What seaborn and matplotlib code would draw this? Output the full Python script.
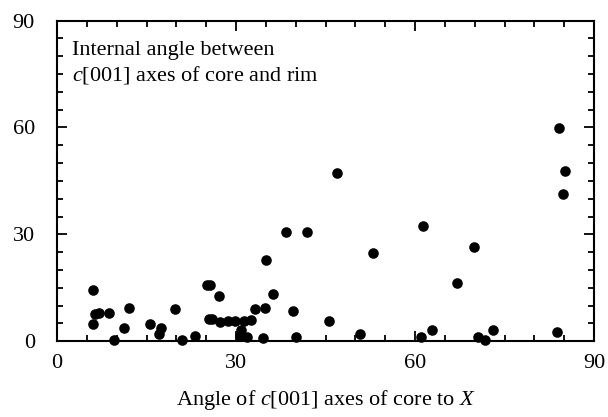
import matplotlib
matplotlib.use("Agg")
import matplotlib.pyplot as plt
from matplotlib.ticker import MultipleLocator
import seaborn as sns
import pandas as pd

core_angle = [6.1, 6.1, 6.4, 7.0, 8.7, 9.55, 11.2, 12.1, 15.6, 17.5, 17.1, 19.8, 20.9,
              23.2, 25.1, 25.7, 27.1, 25.5, 25.9, 27.3, 28.6, 29.9, 31.4, 32.5, 33.1,
              34.9, 36.2, 30.8, 30.6, 31.9, 34.6, 35.0, 38.4, 41.9, 39.5, 40.05, 45.5,
              47.0, 50.8, 53.0, 61.3, 60.95, 62.9, 67.0, 69.9, 70.5, 71.8, 73.0,
              83.85, 84.75, 84.1, 85.1]
internal_angle = [14.4, 4.8, 7.6, 7.9, 7.9, 0.4, 3.6, 9.4, 4.8, 3.6, 2.0, 9.0, 0.4,
                  1.6, 15.9, 15.9, 12.7, 6.2, 6.2, 5.3, 5.7, 5.7, 5.7, 5.9, 9.0,
                  9.4, 13.3, 3.2, 1.6, 1.2, 1.0, 22.7, 30.6, 30.6, 8.4, 1.1, 5.8,
                  47.2, 2.05, 24.9, 32.4, 1.1, 3.1, 16.3, 26.4, 1.1, 0.36, 3.1,
                  2.6, 41.3, 59.9, 47.7]
x_ticks = [0, 30, 60, 90]
y_ticks = [0, 30, 60, 90]

df = pd.DataFrame({"core": core_angle, "internal": internal_angle})

sns.set_theme(style="ticks")
plt.rcParams["font.family"] = ["Liberation Serif", "DejaVu Serif"]
plt.rcParams["mathtext.fontset"] = "custom"
plt.rcParams["mathtext.rm"] = "Liberation Serif"
plt.rcParams["mathtext.it"] = "Liberation Serif:italic"

fig = plt.figure(figsize=(6.08, 4.17), dpi=100)
ax = fig.add_axes([0.0938, 0.1815, 0.8832, 0.7693])

sns.scatterplot(data=df, x="core", y="internal", ax=ax, color="black",
                s=58, edgecolor="black", linewidth=0, zorder=3, clip_on=False)

ax.set_xlim(0, 90)
ax.set_ylim(0, 90)
ax.set_xticks(x_ticks)
ax.set_yticks(y_ticks)
ax.xaxis.set_minor_locator(MultipleLocator(5))
ax.yaxis.set_minor_locator(MultipleLocator(5))
ax.tick_params(which="both", direction="in", top=True, right=True, color="black",
               width=1.3, labelsize=16, labelcolor="black")
ax.tick_params(which="major", length=7)
ax.tick_params(which="minor", length=4.3)
ax.tick_params(axis="x", which="major", pad=9)
ax.tick_params(axis="y", which="major", pad=16)
for sp in ax.spines.values():
    sp.set_visible(True)
    sp.set_linewidth(1.5)
    sp.set_color("black")

ax.set_xlabel(r"Angle of $\mathit{c}$[001] axes of core to $\mathit{X}$", fontsize=16,
              color="black", labelpad=11)
ax.set_ylabel("")
ax.text(0.027, 0.935, "Internal angle between\n$\\mathit{c}$[001] axes of core and rim",
        transform=ax.transAxes, fontsize=16, va="top", ha="left", color="black",
        linespacing=1.25)

fig.savefig("out.png", dpi=100)
